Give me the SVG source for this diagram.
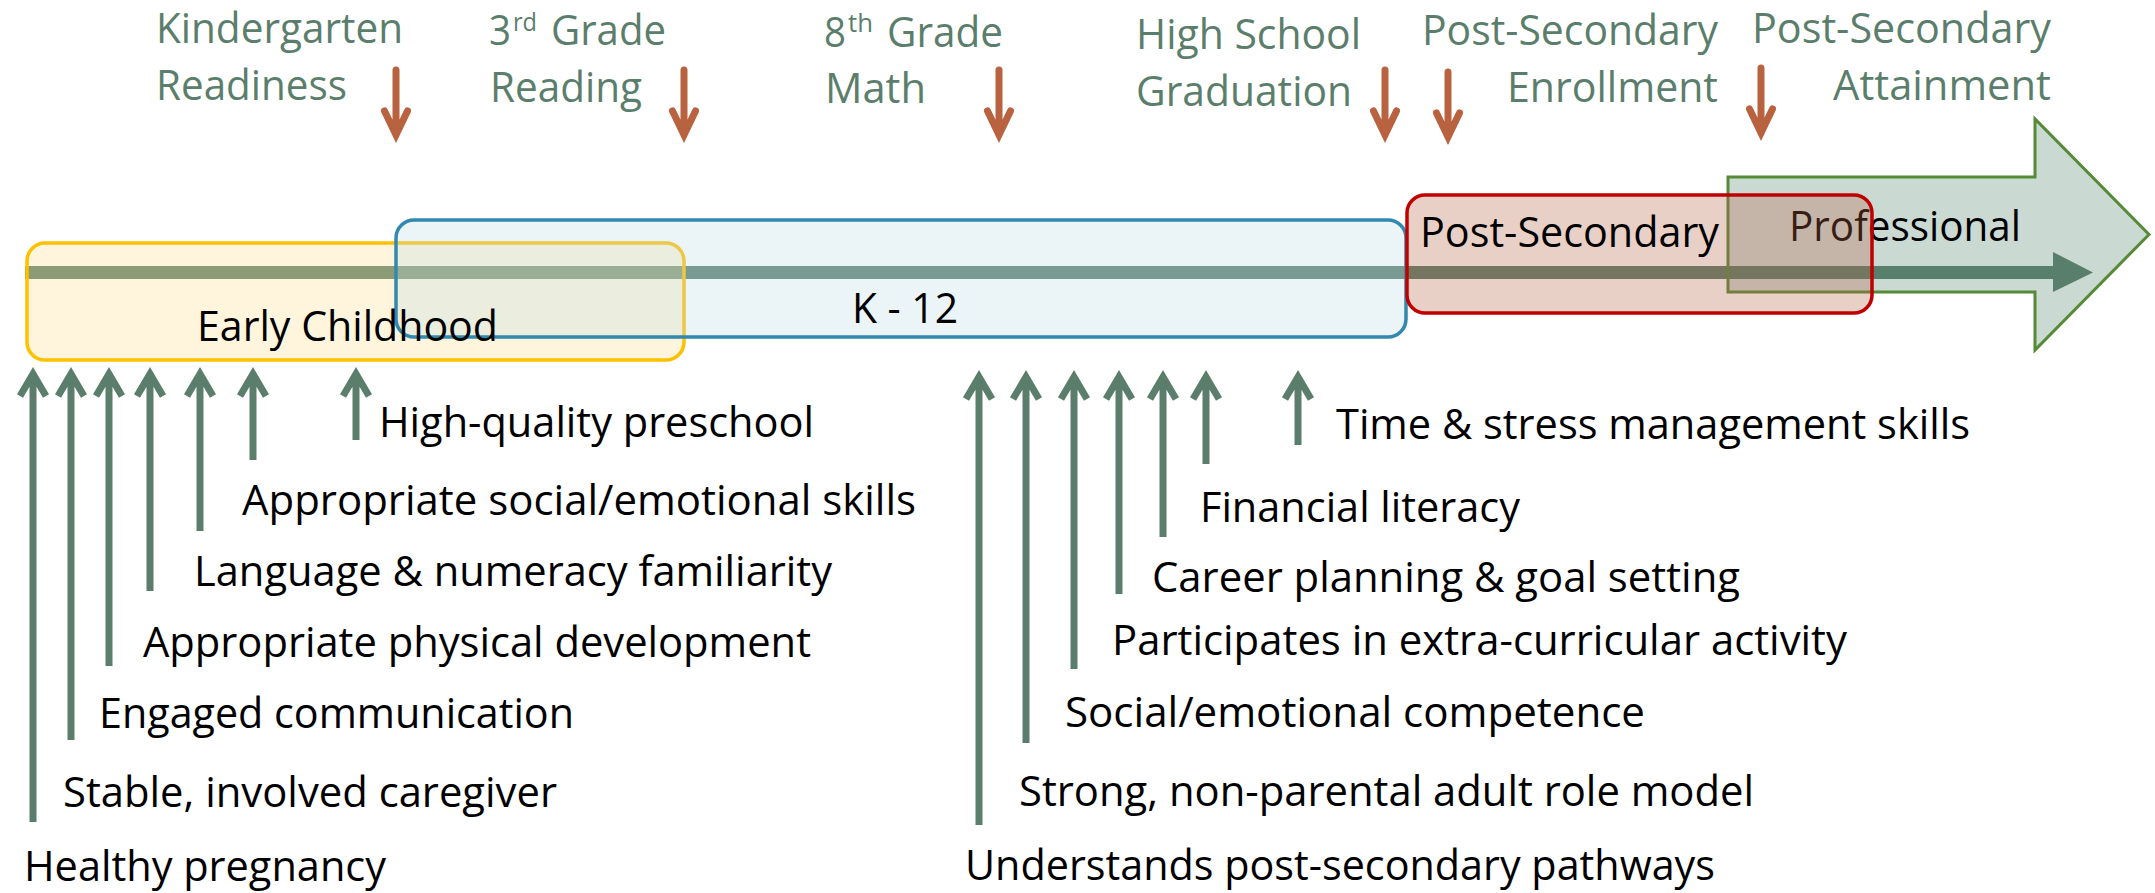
<svg xmlns="http://www.w3.org/2000/svg" width="2155" height="893" viewBox="0 0 2155 893">
<style>
text{font-family:"Open Sans","Liberation Sans",sans-serif;font-size:42px;fill:#000}
.ms{fill:#5b7e6c}
.sup{font-size:25px}
.down{fill:none;stroke:#b9623f;stroke-width:7;stroke-linecap:round;stroke-linejoin:miter;stroke-miterlimit:10}
.up{fill:none;stroke:#5b7e6c;stroke-width:7;stroke-linecap:butt;stroke-linejoin:miter;stroke-miterlimit:10}
.box{stroke-width:3.5}
</style>
<defs>
<path id="dArrow" d="M0,0 V65 M-11.5,41 L0,65 L11.5,41"/>
</defs>
<g id="timeline">
<rect x="25" y="266" width="2030" height="13" fill="#5b7e6c"/>
<polygon points="2053,252 2093,272.5 2053,292" fill="#5b7e6c"/>
</g>
<g id="professional">
<polygon points="1728,177 2035,177 2035,119 2149,234.5 2035,350 2035,292 1728,292" fill="#52806c" fill-opacity="0.3" stroke="#558a36" stroke-width="3"/>
<text x="1789" y="241" textLength="232" lengthAdjust="spacingAndGlyphs">Professional</text>
</g>
<g id="early-childhood">
<rect class="box" x="27" y="243" width="657" height="117" rx="18" fill="#ffdd8a" fill-opacity="0.3" stroke="#ffc000"/>
</g>
<g id="k12">
<rect class="box" x="396" y="220" width="1010" height="117" rx="18" fill="#bcdae4" fill-opacity="0.3" stroke="#3388ae"/>
<text x="852" y="323" textLength="106" lengthAdjust="spacingAndGlyphs">K - 12</text>
</g>
<g id="post-secondary">
<rect class="box" x="1407" y="195" width="465" height="118" rx="18" fill="#b66244" fill-opacity="0.3" stroke="#c00000"/>
<text x="1420" y="247" textLength="299" lengthAdjust="spacingAndGlyphs">Post-Secondary</text>
</g>
<g id="early-childhood-label">
<text x="197" y="341" textLength="301" lengthAdjust="spacingAndGlyphs">Early Childhood</text>
</g>
<g id="milestones">
<g id="m-kindergarten">
<text class="ms" x="156" y="43" textLength="247" lengthAdjust="spacingAndGlyphs">Kindergarten</text>
<text class="ms" x="156" y="100" textLength="191" lengthAdjust="spacingAndGlyphs">Readiness</text>
</g>
<g id="m-3rd">
<text class="ms" x="489" y="45" textLength="22" lengthAdjust="spacingAndGlyphs">3</text>
<text class="ms sup" x="513" y="31" textLength="24" lengthAdjust="spacingAndGlyphs">rd</text>
<text class="ms" x="551" y="45" textLength="115" lengthAdjust="spacingAndGlyphs">Grade</text>
<text class="ms" x="490" y="102" textLength="152" lengthAdjust="spacingAndGlyphs">Reading</text>
</g>
<g id="m-8th">
<text class="ms" x="824" y="47" textLength="22" lengthAdjust="spacingAndGlyphs">8</text>
<text class="ms sup" x="848" y="32" textLength="25" lengthAdjust="spacingAndGlyphs">th</text>
<text class="ms" x="887" y="47" textLength="116" lengthAdjust="spacingAndGlyphs">Grade</text>
<text class="ms" x="825" y="103" textLength="101" lengthAdjust="spacingAndGlyphs">Math</text>
</g>
<g id="m-hs">
<text class="ms" x="1136" y="49" textLength="225" lengthAdjust="spacingAndGlyphs">High School</text>
<text class="ms" x="1136" y="106" textLength="216" lengthAdjust="spacingAndGlyphs">Graduation</text>
</g>
<g id="m-enroll">
<text class="ms" x="1422" y="45" textLength="296" lengthAdjust="spacingAndGlyphs">Post-Secondary</text>
<text class="ms" x="1507" y="102" textLength="211" lengthAdjust="spacingAndGlyphs">Enrollment</text>
</g>
<g id="m-attain">
<text class="ms" x="1752" y="43" textLength="299" lengthAdjust="spacingAndGlyphs">Post-Secondary</text>
<text class="ms" x="1833" y="100" textLength="218" lengthAdjust="spacingAndGlyphs">Attainment</text>
</g>
</g>
<g id="factors-early">
<text x="379" y="437" textLength="435" lengthAdjust="spacingAndGlyphs">High-quality preschool</text>
<text x="242" y="515" textLength="674" lengthAdjust="spacingAndGlyphs">Appropriate social/emotional skills</text>
<text x="194" y="586" textLength="638" lengthAdjust="spacingAndGlyphs">Language &amp; numeracy familiarity</text>
<text x="143" y="657" textLength="668" lengthAdjust="spacingAndGlyphs">Appropriate physical development</text>
<text x="99" y="728" textLength="475" lengthAdjust="spacingAndGlyphs">Engaged communication</text>
<text x="63" y="807" textLength="494" lengthAdjust="spacingAndGlyphs">Stable, involved caregiver</text>
<text x="24" y="881" textLength="362" lengthAdjust="spacingAndGlyphs">Healthy pregnancy</text>
</g>
<g id="factors-k12">
<text x="1336" y="439" textLength="634" lengthAdjust="spacingAndGlyphs">Time &amp; stress management skills</text>
<text x="1200" y="522" textLength="320" lengthAdjust="spacingAndGlyphs">Financial literacy</text>
<text x="1152" y="592" textLength="588" lengthAdjust="spacingAndGlyphs">Career planning &amp; goal setting</text>
<text x="1112" y="655" textLength="735" lengthAdjust="spacingAndGlyphs">Participates in extra-curricular activity</text>
<text x="1065" y="727" textLength="580" lengthAdjust="spacingAndGlyphs">Social/emotional competence</text>
<text x="1019" y="806" textLength="735" lengthAdjust="spacingAndGlyphs">Strong, non-parental adult role model</text>
<text x="965" y="880" textLength="750" lengthAdjust="spacingAndGlyphs">Understands post-secondary pathways</text>
</g>
<g id="connectors">
<g id="milestone-arrows" class="down">
<use href="#dArrow" x="396" y="70"/>
<use href="#dArrow" x="684" y="70"/>
<use href="#dArrow" x="999" y="70"/>
<use href="#dArrow" x="1385" y="70"/>
<use href="#dArrow" x="1448" y="72"/>
<use href="#dArrow" x="1761" y="68"/>
</g>
<g id="early-arrows" class="up">
<path d="M33,822 V374 M20,396 L33,374 L46,396"/>
<path d="M71,740 V374 M58,396 L71,374 L84,396"/>
<path d="M109,666 V374 M96,396 L109,374 L122,396"/>
<path d="M150,591 V374 M137,396 L150,374 L163,396"/>
<path d="M200,531 V374 M187,396 L200,374 L213,396"/>
<path d="M253,460 V374 M240,396 L253,374 L266,396"/>
<path d="M356,440 V374 M343,396 L356,374 L369,396"/>
</g>
<g id="k12-arrows" class="up">
<path d="M979,825 V377 M966,399 L979,377 L992,399"/>
<path d="M1026,743 V377 M1013,399 L1026,377 L1039,399"/>
<path d="M1074,669 V377 M1061,399 L1074,377 L1087,399"/>
<path d="M1119,594 V377 M1106,399 L1119,377 L1132,399"/>
<path d="M1163,537 V377 M1150,399 L1163,377 L1176,399"/>
<path d="M1206,464 V377 M1193,399 L1206,377 L1219,399"/>
<path d="M1298,445 V377 M1285,399 L1298,377 L1311,399"/>
</g>
</g>
</svg>
